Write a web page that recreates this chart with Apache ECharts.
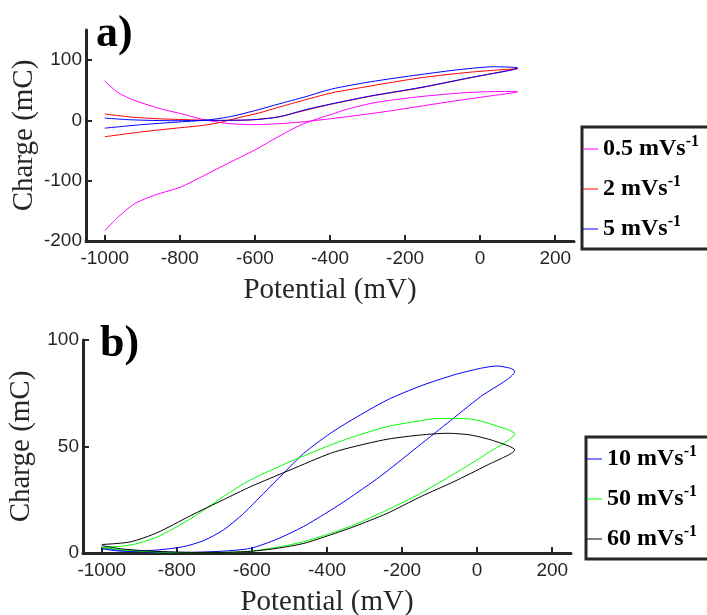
<!DOCTYPE html>
<html>
<head>
<meta charset="utf-8">
<title>Charge vs Potential</title>
<script src="https://cdn.jsdelivr.net/npm/echarts@6/dist/echarts.min.js"></script>
<style>
  html, body { margin: 0; padding: 0; background: #fff; }
  #chart { width: 707px; height: 615px; }
</style>
</head>
<body>
<div id="chart"></div>
<script>
// potential ticks (mV)
var potTicks = [-1000, -800, -600, -400, -200, 0, 200];
var chargeTicksA = [-200, -100, 0, 100];
var chargeTicksB = [0, 50, 100];

// a) loops, [potential mV, charge mC], going out to +100 and back
var loop05 = [
  [-1000, 65], [-964, 46], [-924, 34], [-858, 20.5], [-796, 11], [-742, 2], [-680, -4.5],
  [-609, -7], [-538, -5.5], [-467, -2], [-396, 3], [-320, 9], [-249, 15], [-160, 23.5],
  [-71, 32], [20, 40], [100, 47.5],
  [61, 48], [-27, 46.5], [-100, 43], [-160, 39.5], [-200, 36.5], [-250, 32.5], [-293, 28],
  [-340, 21], [-373, 15], [-396, 10], [-422, 5], [-476, -7], [-538, -27], [-600, -49],
  [-671, -71], [-733, -90.6], [-796, -110], [-867, -124], [-920, -138], [-964, -160], [-1000, -183]
];
var loop2 = [
  [-1000, 10.6], [-929, 5.6], [-858, 2.8], [-769, 1], [-698, 0], [-609, 1], [-538, 6],
  [-467, 16.5], [-396, 27], [-293, 40], [-160, 54], [-27, 70.6], [100, 86],
  [-27, 80], [-160, 70.6], [-293, 57], [-396, 45.6], [-467, 34], [-538, 21.7],
  [-591, 12], [-640, 5], [-698, -4], [-742, -8.5], [-813, -13], [-902, -19], [-1000, -27]
];
var loop5 = [
  [-1000, 3.9], [-929, 1], [-813, -0.5], [-724, 0], [-609, 1], [-538, 5.6], [-467, 17.5],
  [-396, 27.5], [-293, 40.5], [-160, 54.5], [-27, 71], [100, 87],
  [36, 89], [-53, 84.5], [-160, 76], [-293, 64], [-396, 52], [-467, 39], [-538, 27],
  [-591, 17.8], [-662, 6.7], [-724, 1], [-813, -3], [-902, -7], [-1000, -12.8]
];

// b) loops
var loop10 = [
  [-1000, 2.5], [-940, 1], [-853, 0.4], [-764, 0.3], [-676, 0.9], [-604, 2.2], [-533, 6.5],
  [-462, 12.5], [-391, 20], [-347, 25], [-258, 36], [-169, 48.4], [-80, 60.9],
  [9, 73.4], [100, 85.4],
  [89, 86.7], [53, 87.8], [9, 86.7], [-62, 83.6], [-151, 78.4], [-240, 71.8], [-329, 63],
  [-391, 56.2], [-462, 46.8], [-516, 37.4], [-569, 28], [-622, 18.6], [-676, 10.8],
  [-729, 5.8], [-782, 3], [-853, 1.4], [-942, 0.8], [-1000, 2]
];
var loop50 = [
  [-1000, 2.7], [-950, 1.5], [-853, 0.5], [-764, 0.2], [-676, 0.3], [-604, 0.8], [-533, 2.7],
  [-462, 5.3], [-391, 9.2], [-329, 13.1], [-240, 20.2], [-151, 28], [-62, 37.1],
  [27, 46.8], [100, 55.9],
  [44, 60.1], [-18, 62.9], [-98, 63.2], [-151, 62.1], [-240, 59.3], [-329, 54.6],
  [-391, 50.7], [-498, 42.9], [-604, 34.3], [-676, 26.5], [-764, 16], [-853, 7.5],
  [-916, 4], [-960, 3], [-1000, 2.7]
];
var loop60 = [
  [-1000, 3.5], [-950, 2], [-880, 1], [-764, 0.3], [-676, 0.3], [-604, 0.8], [-533, 2.2],
  [-462, 4.5], [-391, 8.5], [-329, 12.3], [-240, 18.6], [-151, 26.4], [-62, 33.5],
  [27, 41.3], [100, 48.4],
  [44, 52.7], [-18, 55.4], [-80, 56.2], [-151, 55.4], [-240, 53.4], [-329, 49.9],
  [-391, 46.8], [-498, 39], [-604, 31.1], [-676, 25], [-764, 17.5], [-853, 9.5],
  [-924, 5.2], [-1000, 4]
];

var axisColor = '#262626';
var serif = 'Liberation Serif';
var sans = 'Liberation Sans';

function xAx(idx) {
  return {
    type: 'value', gridIndex: idx, min: -1050, max: 250,
    name: 'Potential (mV)', nameLocation: 'middle', nameGap: 35, nameMoveOverlap: false,
    nameTextStyle: { fontFamily: serif, fontSize: 29, color: axisColor },
    axisLine: { show: true, onZero: false, lineStyle: { color: axisColor, width: 3 } },
    axisTick: { show: true, inside: true, length: 6, customValues: potTicks,
                lineStyle: { color: axisColor, width: 2 } },
    axisLabel: { customValues: potTicks, fontFamily: sans, fontSize: 19, color: axisColor, margin: 8,
                 formatter: function (v) { return String(v); } },
    splitLine: { show: false }
  };
}
function yAx(idx, min, max, ticks) {
  return {
    type: 'value', gridIndex: idx, min: min, max: max,
    name: 'Charge (mC)', nameLocation: 'middle', nameGap: 47, nameMoveOverlap: false,
    nameTextStyle: { fontFamily: serif, fontSize: 29, color: axisColor },
    axisLine: { show: true, onZero: false, lineStyle: { color: axisColor, width: 3 } },
    axisTick: { show: true, inside: true, length: 6, customValues: ticks,
                lineStyle: { color: axisColor, width: 2 } },
    axisLabel: { customValues: ticks, fontFamily: sans, fontSize: 19, color: axisColor, margin: 4,
                 formatter: function (v) { return String(v); } },
    splitLine: { show: false }
  };
}
function loopSeries(name, data, color, idx) {
  return {
    name: name, type: 'line', data: data, xAxisIndex: idx, yAxisIndex: idx,
    symbol: 'none', showSymbol: false, smooth: 0.25,
    itemStyle: { color: color },
    lineStyle: { color: color, width: 1 }
  };
}
function legendOf(names, left, top) {
  return {
    orient: 'vertical', left: left, top: top, data: names,
    borderColor: axisColor, borderWidth: 3, borderRadius: 0,
    padding: [7, 12, 8, 0], itemGap: 13, itemWidth: 15, itemHeight: 10,
    itemStyle: { opacity: 0 },
    lineStyle: { opacity: 0.5 },
    formatter: function (n) { return '{n|' + n + ' mVs}{s|-1}'; },
    textStyle: {
      rich: {
        n: { fontFamily: serif, fontWeight: 'bold', fontSize: 24, lineHeight: 30, color: '#000' },
        s: { fontFamily: serif, fontWeight: 'bold', fontSize: 16, lineHeight: 16,
             verticalAlign: 'top', color: '#000' }
      }
    }
  };
}

var chart = echarts.init(document.getElementById('chart'));
chart.setOption({
  animation: false,
  backgroundColor: '#fff',
  grid: [
    { left: 86, top: 30, width: 488, height: 211, outerBoundsMode: 'none' },
    { left: 83, top: 340, width: 488, height: 213, outerBoundsMode: 'none' }
  ],
  xAxis: [xAx(0), xAx(1)],
  yAxis: [yAx(0, -200, 150, chargeTicksA), yAx(1, 0, 100, chargeTicksB)],
  legend: [legendOf(['0.5', '2', '5'], 582, 127), legendOf(['10', '50', '60'], 586, 437)],
  graphic: [
    { type: 'text', left: 96, top: 13, style: { text: 'a)', font: 'bold 44px "Liberation Serif"', fill: '#000' } },
    { type: 'text', left: 100, top: 323, style: { text: 'b)', font: 'bold 44px "Liberation Serif"', fill: '#000' } }
  ],
  series: [
    loopSeries('0.5', loop05, '#ff00ff', 0),
    loopSeries('2', loop2, '#ff0000', 0),
    loopSeries('5', loop5, '#0000ff', 0),
    loopSeries('10', loop10, '#0000ff', 1),
    loopSeries('50', loop50, '#00ff00', 1),
    loopSeries('60', loop60, '#000000', 1)
  ]
});
</script>
</body>
</html>
